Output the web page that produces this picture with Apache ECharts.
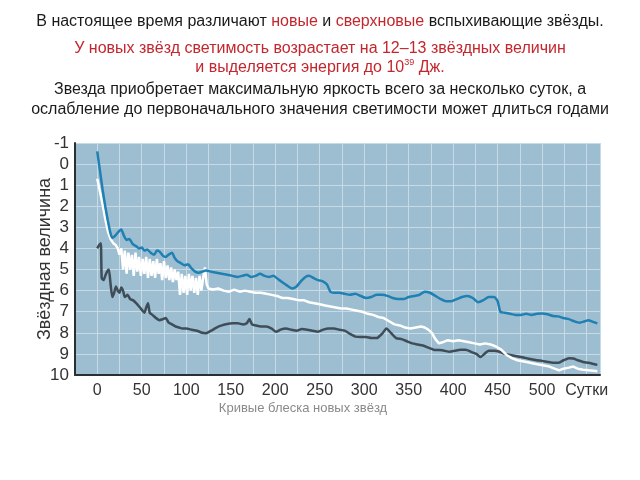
<!DOCTYPE html>
<html>
<head>
<meta charset="utf-8">
<script src="https://cdn.jsdelivr.net/npm/echarts@6/dist/echarts.min.js"></script>
<style>html,body{margin:0;padding:0;background:#fff}#c{width:640px;height:480px}</style>
</head>
<body>
<div id="c"></div>
<script>
const xTickLabels = {0:'0',50:'50',100:'100',150:'150',200:'200',250:'250',300:'300',350:'350',400:'400',450:'450',500:'500',550:'Сутки'};
const yTickLabels = [-1,0,1,2,3,4,5,6,7,8,9,10];

const blueCurve = [[0,-0.6],[3,0.3],[6,1.2],[9,2.0],[12,2.7],[15,3.3],[17,3.5],[20,3.4],[24,3.2],[27,3.1],[30,3.4],[33,3.6],[36,3.55],[40,3.8],[44,3.9],[47,4.0],[50,3.95],[53,4.1],[56,4.05],[60,4.2],[64,4.3],[67,4.1],[70,4.15],[74,4.35],[77,4.4],[80,4.3],[84,4.2],[87,4.45],[90,4.6],[94,4.7],[98,4.8],[102,4.75],[106,4.95],[110,5.1],[114,5.15],[118,5.1],[122,5.05],[128,5.1],[134,5.15],[140,5.2],[146,5.25],[152,5.3],[158,5.35],[163,5.3],[168,5.25],[173,5.35],[178,5.3],[183,5.2],[188,5.3],[193,5.35],[198,5.3],[203,5.45],[208,5.6],[213,5.75],[219,5.9],[224,5.8],[229,5.55],[234,5.35],[238,5.3],[243,5.4],[248,5.5],[253,5.55],[258,5.7],[262,6.05],[266,6.1],[272,6.1],[278,6.15],[284,6.2],[290,6.15],[296,6.25],[302,6.35],[308,6.3],[314,6.2],[320,6.2],[326,6.25],[332,6.35],[338,6.4],[344,6.4],[350,6.3],[356,6.25],[362,6.2],[368,6.05],[374,6.1],[380,6.25],[386,6.4],[392,6.5],[398,6.5],[404,6.4],[410,6.3],[416,6.25],[422,6.35],[428,6.55],[434,6.45],[440,6.3],[446,6.3],[450,6.5],[453,7.0],[458,7.05],[464,7.1],[470,7.15],[476,7.15],[482,7.1],[488,7.15],[494,7.1],[500,7.08],[506,7.12],[512,7.2],[518,7.22],[524,7.3],[530,7.35],[536,7.45],[542,7.52],[548,7.45],[552,7.4],[557,7.48],[562,7.55]];

const whiteCurve = [[0,0.7],[3,1.3],[6,1.9],[9,2.6],[12,3.2],[15,3.55],[18,3.75],[21,3.85],[23,4.0],[25,4.3],[27,4.0],[29,5.0],[31,4.1],[33,5.2],[35,4.2],[37,5.0],[39,4.3],[41,5.3],[43,4.2],[45,5.1],[47,4.4],[49,5.3],[51,4.5],[53,5.2],[55,4.4],[57,5.4],[59,4.5],[61,5.3],[63,4.6],[65,5.4],[67,4.5],[69,5.2],[71,4.7],[73,5.5],[75,4.6],[77,5.4],[79,4.8],[81,5.5],[83,4.9],[85,5.6],[87,5.0],[89,5.5],[91,5.1],[93,6.2],[95,5.2],[97,6.1],[99,5.3],[101,6.2],[103,5.2],[105,6.0],[107,5.3],[109,6.1],[111,5.4],[113,6.2],[115,5.3],[117,6.0],[119,5.4],[121,4.9],[123,5.7],[125,5.9],[130,5.95],[136,5.9],[142,6.0],[148,6.05],[154,5.95],[160,6.05],[166,6.0],[172,6.05],[178,6.1],[184,6.1],[190,6.15],[196,6.2],[202,6.25],[208,6.35],[214,6.35],[220,6.4],[226,6.45],[232,6.45],[238,6.55],[244,6.6],[250,6.65],[256,6.7],[262,6.75],[268,6.8],[274,6.85],[280,6.85],[286,6.9],[292,6.95],[298,7.0],[304,7.1],[310,7.15],[316,7.25],[322,7.3],[328,7.45],[334,7.6],[340,7.65],[346,7.75],[352,7.8],[358,7.75],[364,7.7],[368,7.75],[372,7.85],[376,8.0],[380,8.3],[384,8.5],[388,8.45],[394,8.35],[400,8.4],[406,8.35],[412,8.4],[418,8.45],[424,8.5],[430,8.55],[436,8.5],[442,8.55],[448,8.65],[454,8.8],[460,9.05],[466,9.2],[472,9.3],[478,9.35],[484,9.4],[490,9.45],[496,9.5],[502,9.55],[508,9.6],[514,9.7],[519,9.78],[524,9.7],[530,9.65],[535,9.6],[540,9.7],[546,9.75],[552,9.78],[558,9.8],[562,9.82]];

const darkCurve = [[0,4.0],[2,3.85],[4,3.75],[5,5.4],[7,5.5],[9,5.3],[11,5.1],[13,5.0],[15,5.7],[17,6.3],[19,6.1],[21,5.8],[23,6.0],[25,6.1],[27,5.85],[29,6.0],[31,6.3],[34,6.2],[37,6.4],[40,6.45],[44,6.6],[47,6.75],[50,6.9],[53,7.05],[55,6.8],[57,6.6],[59,7.05],[62,7.15],[66,7.3],[70,7.4],[74,7.35],[77,7.3],[80,7.5],[84,7.6],[88,7.7],[92,7.75],[96,7.8],[100,7.8],[106,7.85],[112,7.9],[118,8.0],[122,8.02],[128,7.9],[134,7.75],[140,7.65],[146,7.58],[152,7.55],[158,7.55],[164,7.6],[168,7.55],[171,7.35],[174,7.6],[178,7.65],[184,7.7],[190,7.7],[196,7.8],[201,7.95],[206,7.85],[212,7.8],[218,7.85],[224,7.9],[230,7.82],[236,7.85],[242,7.9],[248,7.95],[254,7.85],[260,7.8],[266,7.8],[272,7.85],[278,7.9],[284,8.05],[290,8.18],[296,8.2],[302,8.2],[308,8.25],[314,8.25],[320,8.05],[325,7.8],[330,8.0],[336,8.25],[342,8.3],[348,8.4],[354,8.5],[360,8.55],[366,8.6],[372,8.7],[378,8.8],[384,8.82],[390,8.85],[396,8.9],[402,8.85],[408,8.8],[414,8.8],[420,8.9],[426,9.0],[431,9.15],[435,9.0],[440,8.85],[446,8.85],[452,8.9],[458,9.0],[464,9.05],[470,9.1],[476,9.15],[482,9.2],[488,9.25],[494,9.3],[500,9.33],[506,9.38],[512,9.42],[518,9.42],[524,9.3],[530,9.2],[535,9.22],[540,9.3],[546,9.38],[552,9.42],[558,9.48],[562,9.52]];

const titleLine1 = 'В настоящее время различают {r|новые} и {r|сверхновые} вспыхивающие звёзды.';
const titleLine2 = 'У новых звёзд светимость возрастает на 12–13 звёздных величин\nи выделяется энергия до 10{sup|39} Дж.';
const titleLine3 = 'Звезда приобретает максимальную яркость всего за несколько суток, а\nослабление до первоначального значения светимости может длиться годами';
const caption = 'Кривые блеска новых звёзд';
const yAxisTitle = 'Звёздная величина';

const FONT = '"Liberation Sans", Arial, sans-serif';
const RED = '#c4262e';

const chart = echarts.init(document.getElementById('c'), null, {renderer: 'canvas'});
chart.setOption({
  animation: false,
  backgroundColor: '#ffffff',
  title: [
    {text: titleLine1, left: 'center', top: 12, padding: 0,
     textStyle: {fontFamily: FONT, fontSize: 16, fontWeight: 'normal', color: '#1a1a1a', lineHeight: 20,
       rich: {r: {color: RED, fontFamily: FONT, fontSize: 16, lineHeight: 20}}}},
    {text: titleLine2, left: 'center', top: 39, padding: 0,
     textStyle: {fontFamily: FONT, fontSize: 16, fontWeight: 'normal', color: RED, lineHeight: 19, align: 'center',
       rich: {sup: {color: RED, fontFamily: FONT, fontSize: 9, verticalAlign: 'top', lineHeight: 19}}}},
    {text: titleLine3, left: 'center', top: 80, padding: 0,
     textStyle: {fontFamily: FONT, fontSize: 16, fontWeight: 'normal', color: '#1a1a1a', lineHeight: 20, align: 'center'}}
  ],
  graphic: [
    {type: 'text', x: 303, y: 408,
     style: {text: caption, fontFamily: FONT, fontSize: 13, fill: '#8a8a8a', align: 'center', verticalAlign: 'middle'}}
  ],
  grid: {left: 75, right: 40, top: 143, bottom: 105, show: true, backgroundColor: '#9dbdd1', borderWidth: 0},
  xAxis: {
    type: 'value', min: -25, max: 565, interval: 25,
    axisLine: {show: true, onZero: false, lineStyle: {color: '#2b2f33', width: 2}},
    axisTick: {show: false},
    splitLine: {show: true, lineStyle: {color: '#c7dbe7', width: 1}},
    axisLabel: {interval: 0, margin: 8, fontFamily: FONT, fontSize: 16, color: '#333',
      formatter: v => (xTickLabels[v] !== undefined ? xTickLabels[v] : '')}
  },
  yAxis: {
    type: 'value', inverse: true, min: -1, max: 10, interval: 1,
    name: yAxisTitle, nameLocation: 'middle', nameRotate: 90, nameGap: 21, nameMoveOverlap: false,
    nameTextStyle: {fontFamily: FONT, fontSize: 18, color: '#333'},
    axisLine: {show: true, onZero: false, lineStyle: {color: '#2b2f33', width: 2}},
    axisTick: {show: false},
    splitLine: {show: true, lineStyle: {color: '#c7dbe7', width: 1}},
    axisLabel: {margin: 6, fontFamily: FONT, fontSize: 17, color: '#333',
      formatter: v => (yTickLabels.indexOf(v) >= 0 ? String(v) : '')}
  },
  series: [
    {type: 'line', data: darkCurve, showSymbol: false, symbol: 'none', smooth: 0.2,
     lineStyle: {color: '#3f4d59', width: 2.5}},
    {type: 'line', data: whiteCurve, showSymbol: false, symbol: 'none', smooth: false,
     lineStyle: {color: '#ffffff', width: 2.5}},
    {type: 'line', data: blueCurve, showSymbol: false, symbol: 'none', smooth: 0.2,
     lineStyle: {color: '#1f80b3', width: 2.5}}
  ]
});
</script>
</body>
</html>
